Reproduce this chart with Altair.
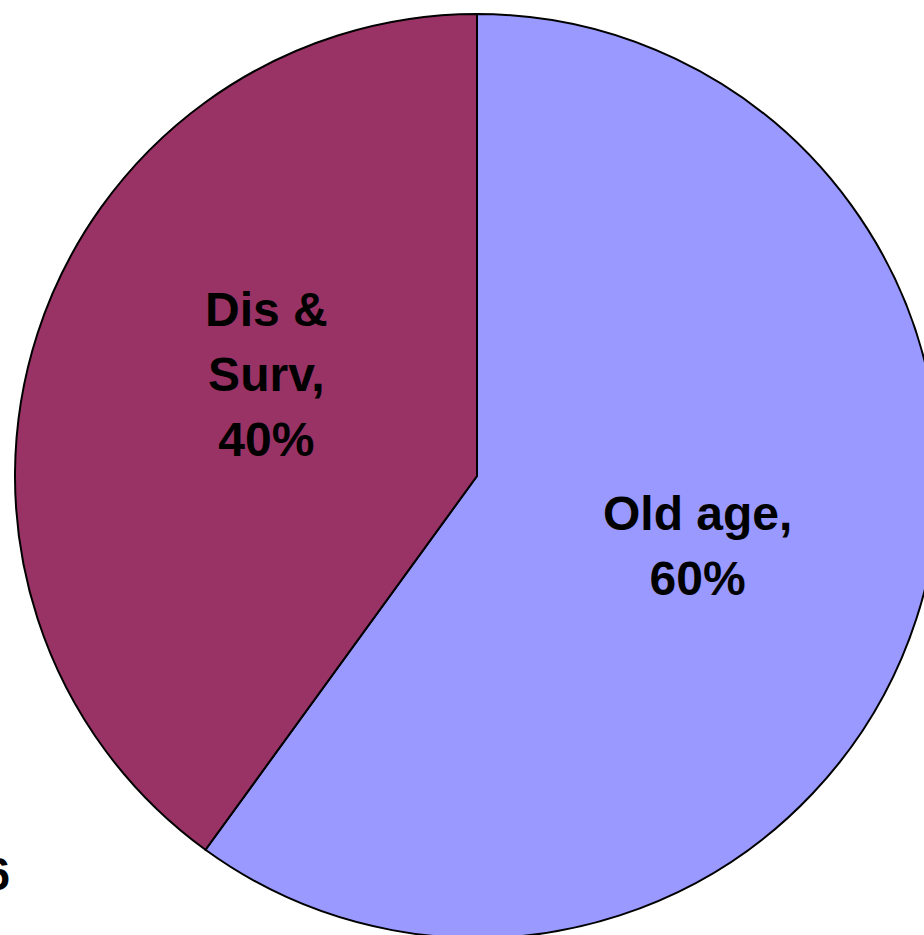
import altair as alt
import pandas as pd

categories = ["Old age", "Dis & Surv"]
shares = [60, 40]
labels = ["Old age,\n60%", "Dis &\nSurv,\n40%"]
slice_colors = ["#9999FF", "#993366"]
stray_text = ["6"]

df = pd.DataFrame({
    "category": categories,
    "share": shares,
    "label": labels,
    "rank": list(range(len(categories))),
})

CX, CY, R = 477, 476, 462
theta_scale = alt.Scale(domain=[0, 100])

pie = alt.Chart(df).mark_arc(outerRadius=R, stroke="black", strokeWidth=2).encode(
    theta=alt.Theta("share:Q", stack=True, scale=theta_scale),
    order=alt.Order("rank:Q"),
    color=alt.Color(
        "category:N",
        scale=alt.Scale(domain=categories, range=slice_colors),
        legend=None,
    ),
    x=alt.value(CX),
    y=alt.value(CY),
)

text_style = dict(
    radius=232, font="Liberation Sans", fontWeight="bold", fontSize=48,
    lineBreak="\n", lineHeight=65, align="center", baseline="middle", color="black",
)

label_base = alt.Chart(df).transform_window(
    cum="sum(share)", sort=[alt.SortField("rank")]
).transform_calculate(
    mid="datum.cum - datum.share / 2"
).encode(
    theta=alt.Theta("mid:Q", scale=theta_scale),
    text="label:N",
    x=alt.value(CX),
    y=alt.value(CY),
)

label_old = label_base.mark_text(dy=-32, **text_style).transform_filter(
    alt.datum.category == "Old age"
)
label_dis = label_base.mark_text(dx=10, dy=-92, **text_style).transform_filter(
    alt.datum.category == "Dis & Surv"
)

stray = alt.Chart(pd.DataFrame({"t": stray_text})).mark_text(
    font="Liberation Sans", fontWeight="bold", fontSize=46, align="right",
    baseline="alphabetic", color="black",
).encode(text="t:N", x=alt.value(10), y=alt.value(890))

chart = alt.layer(pie, label_old, label_dis, stray).properties(
    width=924, height=935, padding=0, autosize=alt.AutoSizeParams(type="none"),
    background="white",
).configure_view(stroke=None)

chart.save("out.html", embed_options={"renderer": "svg", "actions": False})
